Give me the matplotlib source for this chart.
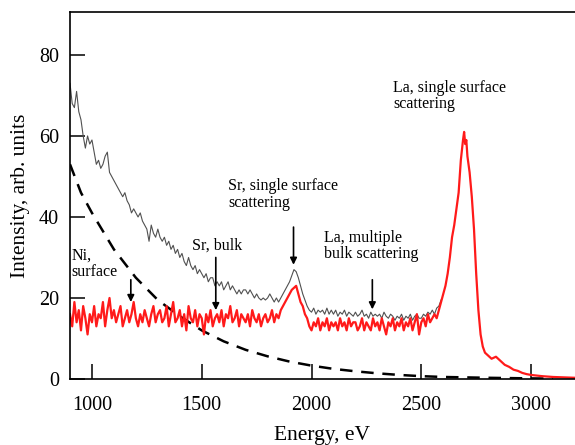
import numpy as np
import matplotlib
matplotlib.use('Agg')
import matplotlib.pyplot as plt

plt.rcParams['font.family'] = ['Liberation Serif', 'DejaVu Serif']

# ---------------- data ----------------
# energy grid of the noisy part (10 eV steps, 900 ... 2590 eV)
grid_x = np.arange(900, 2600, 10)

# thin grey spectrum (upper trace), 900 ... 2590 eV
grey_y = [73, 68, 67, 71, 66, 64, 60, 57, 60, 58,
          59, 56, 53, 54, 52, 53, 55, 56, 51, 50,
          49, 48, 47, 46, 45, 46, 44, 43, 41, 42,
          41, 40, 41, 39, 38, 37, 34, 38, 36, 35,
          37, 35, 34, 35, 33, 34, 32, 33, 31, 32,
          30, 31, 29, 28, 30, 28, 27, 28, 26, 27,
          26, 25, 26, 24, 25, 25, 23, 24, 23, 24,
          22, 23, 24, 22, 23, 22, 21, 22, 21, 22,
          22, 21, 22, 21, 20, 21, 20, 19.5, 20, 19.5,
          20, 21, 20, 19, 20, 19, 20, 21, 22, 23,
          24, 25.5, 27, 26.5, 25, 23, 21, 19.5, 18, 17,
          16.5, 17.5, 16, 17, 16.5, 17, 16, 17.5, 16, 17,
          16, 17, 15.5, 16.5, 16, 17, 15.5, 16.5, 16, 15.5,
          16.5, 15.5, 16, 17, 15.5, 16, 15, 16.5, 15.5, 16,
          15.5, 16, 15, 16.5, 15.5, 15, 16, 15.5, 14.5, 15.5,
          15, 16, 14.5, 15.5, 15, 16, 14.5, 15.5, 16, 15,
          15, 16, 15.5, 16.5, 16, 17, 16, 17.5, 18, 19.5]

# red spectrum, noisy part 900 ... 2590 eV
red_y = [16, 13, 19, 14, 17, 12, 18, 15, 11, 16,
         14, 18, 13, 16, 15, 19, 13, 17, 20, 15,
         17, 14, 16, 18, 13, 15, 17, 14, 16, 19,
         15, 13, 16, 14, 17, 15, 13, 16, 18, 14,
         16, 17, 14, 15, 18, 13, 16, 19, 14, 15,
         17, 13, 16, 12, 18, 15, 14, 17, 13, 16,
         15, 11, 16, 14, 17, 13, 15, 16, 14, 17,
         13, 16, 15, 18, 14, 15, 17, 13, 16, 15,
         14, 16, 13, 17, 15, 14, 16, 13, 15, 16,
         14, 15, 17, 14, 16, 15, 17, 18, 19, 20,
         21, 22, 22.5, 23, 21, 19, 18, 16, 15, 13,
         12, 14, 13, 15, 12, 14, 13, 15, 12, 14,
         13, 14, 12, 15, 13, 14, 12, 15, 13, 14,
         14, 12, 13, 15, 12, 14, 13, 12, 15, 13,
         14, 12, 15, 13, 11, 14, 13, 15, 12, 14,
         13, 15, 12, 14, 13, 15, 12, 14, 16, 11,
         14, 15, 13, 16, 14, 15, 16, 15, 17, 19]

# red spectrum, La peak and tail
peak_x = [2600, 2610, 2620, 2630, 2640, 2650, 2660, 2670, 2680, 2690,
          2695, 2700, 2705, 2710, 2720, 2730, 2740, 2750, 2760, 2770,
          2780, 2790, 2800, 2820, 2840, 2860, 2880, 2900, 2920, 2940,
          2960, 2980, 3000, 3050, 3100, 3150, 3200]
peak_y = [21, 23, 26, 30, 35, 38, 42, 46, 54, 59,
          61, 58, 59, 55, 51, 45, 37, 26, 17, 11,
          8, 6.5, 6, 5, 5.5, 4.5, 3.5, 3, 2.3, 2,
          1.5, 1.2, 1, 0.7, 0.5, 0.4, 0.3]

# dashed background curve
bg_x = [900, 950, 1000, 1100, 1200, 1300, 1400, 1500, 1600, 1700,
        1800, 1900, 2000, 2100, 2200, 2300, 2400, 2500, 2600, 2800,
        3000, 3100]
bg_y = [53, 46, 41, 32, 25, 19.5, 15.5, 12, 9.3, 7.2,
        5.6, 4.3, 3.3, 2.5, 1.9, 1.4, 1.0, 0.7, 0.5, 0.3,
        0.15, 0.1]

# annotations: text, text position, arrow start, arrow tip
notes = [
    ('Ni,\nsurface', (905, 24.5), (1177, 24.5), (1177, 19.0)),
    ('Sr, bulk', (1455, 31.0), (1564, 30.0), (1564, 17.0)),
    ('Sr, single surface\nscattering', (1620, 41.5), (1918, 37.5), (1918, 28.2)),
    ('La, multiple\nbulk scattering', (2055, 28.8), (2277, 24.5), (2277, 17.2)),
    ('La, single surface\nscattering', (2372, 65.8), None, None),
]

# ---------------- plot ----------------
fig = plt.figure(figsize=(5.75, 4.45), dpi=100)
ax = fig.add_axes([70 / 575, 66 / 445, 505 / 575, 367 / 445])

ax.plot(bg_x, bg_y, color='black', lw=1.8, ls=(0, (5, 3.5)))
ax.plot(grid_x, grey_y, color='#505050', lw=0.8)
ax.plot(list(grid_x) + peak_x, red_y + peak_y, color='#ff1a1a', lw=1.6)

for txt, pos, a0, a1 in notes:
    ax.text(pos[0], pos[1], txt, fontsize=11.5, va='bottom', ha='left',
            linespacing=1.05)
    if a0 is not None:
        ax.annotate('', xy=a1, xytext=a0,
                    arrowprops=dict(arrowstyle='-|>', color='black', lw=1.2,
                                    mutation_scale=10, shrinkA=0, shrinkB=0))

ax.set_xlim(900, 3200)
ax.set_ylim(0, 90.6)
ax.set_xticks([1000, 1500, 2000, 2500, 3000])
ax.set_yticks([0, 20, 40, 60, 80])
ax.tick_params(direction='in', length=11, width=1.1, labelsize=14.5, pad=8)
ax.tick_params(axis='x', pad=12)
ax.spines['right'].set_visible(False)
for s in ['left', 'top', 'bottom']:
    ax.spines[s].set_linewidth(1.2)

ax.set_xlabel('Energy, eV', fontsize=15.5, labelpad=8)
ax.set_ylabel('Intensity, arb. units', fontsize=15.5, labelpad=6)

fig.savefig('out.png', dpi=100)
